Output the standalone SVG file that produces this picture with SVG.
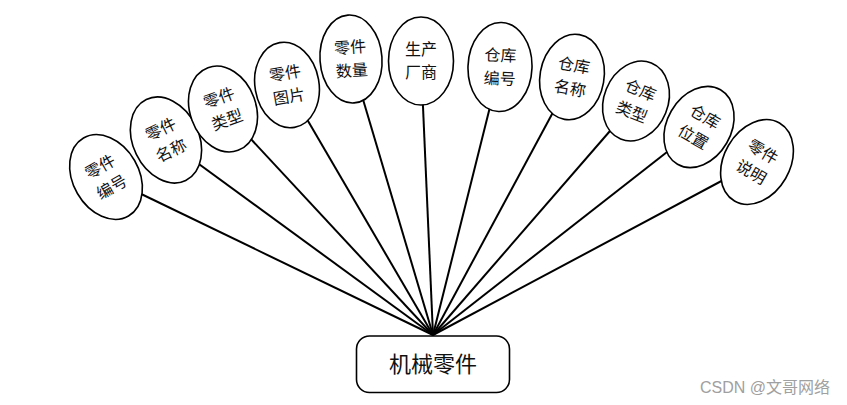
<svg xmlns="http://www.w3.org/2000/svg" width="847" height="405" viewBox="0 0 847 405">
<style>
.e{fill:#fff;stroke:#000;stroke-width:1.6}
.t{font-family:"Noto Sans CJK SC","Liberation Sans",sans-serif;font-size:16px;fill:#111;text-anchor:middle}
.c line{stroke:#000;stroke-width:2}
</style>
<rect width="847" height="405" fill="#fff"/>
<g id="connectors" class="c">
<line x1="433" y1="335" x2="106" y2="177"/>
<line x1="433" y1="335" x2="166" y2="140"/>
<line x1="433" y1="335" x2="223" y2="109"/>
<line x1="433" y1="335" x2="287" y2="85"/>
<line x1="433" y1="335" x2="351" y2="59"/>
<line x1="433" y1="335" x2="421" y2="61"/>
<line x1="433" y1="335" x2="500" y2="67"/>
<line x1="433" y1="335" x2="572" y2="77"/>
<line x1="433" y1="335" x2="636" y2="101"/>
<line x1="433" y1="335" x2="699" y2="127"/>
<line x1="433" y1="335" x2="757" y2="162"/>
</g>
<g id="n1" transform="translate(106,177) rotate(-30)"><ellipse class="e" rx="33" ry="45"/><text class="t"><tspan x="0" y="-6">零件</tspan><tspan x="0" y="17.4">编号</tspan></text></g>
<g id="n2" transform="translate(166,140) rotate(-26)"><ellipse class="e" rx="33" ry="45"/><text class="t"><tspan x="0" y="-6">零件</tspan><tspan x="0" y="17.4">名称</tspan></text></g>
<g id="n3" transform="translate(223,109) rotate(-20)"><ellipse class="e" rx="33" ry="44"/><text class="t"><tspan x="0" y="-6">零件</tspan><tspan x="0" y="17.4">类型</tspan></text></g>
<g id="n4" transform="translate(287,85) rotate(-10)"><ellipse class="e" rx="32" ry="43"/><text class="t"><tspan x="0" y="-6">零件</tspan><tspan x="0" y="17.4">图片</tspan></text></g>
<g id="n5" transform="translate(351,59) rotate(-4)"><ellipse class="e" rx="31" ry="44"/><text class="t"><tspan x="0" y="-6">零件</tspan><tspan x="0" y="17.4">数量</tspan></text></g>
<g id="n6" transform="translate(421,61)"><ellipse class="e" rx="32.5" ry="44"/><text class="t"><tspan x="0" y="-6">生产</tspan><tspan x="0" y="17.4">厂商</tspan></text></g>
<g id="n7" transform="translate(500,67) rotate(2)"><ellipse class="e" rx="32" ry="44.5"/><text class="t"><tspan x="0" y="-6">仓库</tspan><tspan x="0" y="17.4">编号</tspan></text></g>
<g id="n8" transform="translate(572,77) rotate(10)"><ellipse class="e" rx="32" ry="43"/><text class="t"><tspan x="0" y="-6">仓库</tspan><tspan x="0" y="17.4">名称</tspan></text></g>
<g id="n9" transform="translate(636,101) rotate(22)"><ellipse class="e" rx="32" ry="41"/><text class="t"><tspan x="0" y="-6">仓库</tspan><tspan x="0" y="17.4">类型</tspan></text></g>
<g id="n10" transform="translate(699,127) rotate(30)"><ellipse class="e" rx="32" ry="43"/><text class="t"><tspan x="0" y="-6">仓库</tspan><tspan x="0" y="17.4">位置</tspan></text></g>
<g id="n11" transform="translate(757,162) rotate(30)"><ellipse class="e" rx="33" ry="45"/><text class="t"><tspan x="0" y="-6">零件</tspan><tspan x="0" y="17.4">说明</tspan></text></g>
<g id="center">
<rect x="356.5" y="336" width="153" height="56.5" rx="13" ry="13" fill="#fff" stroke="#000" stroke-width="1.6"/>
<text x="433" y="372" font-family="Noto Sans CJK SC,Liberation Sans,sans-serif" font-size="22" text-anchor="middle" fill="#111">机械零件</text>
</g>
<text x="765" y="393" font-family="Liberation Sans,Noto Sans CJK SC,sans-serif" font-size="16" text-anchor="middle" fill="#a0a0a0">CSDN @文哥网络</text>
</svg>
